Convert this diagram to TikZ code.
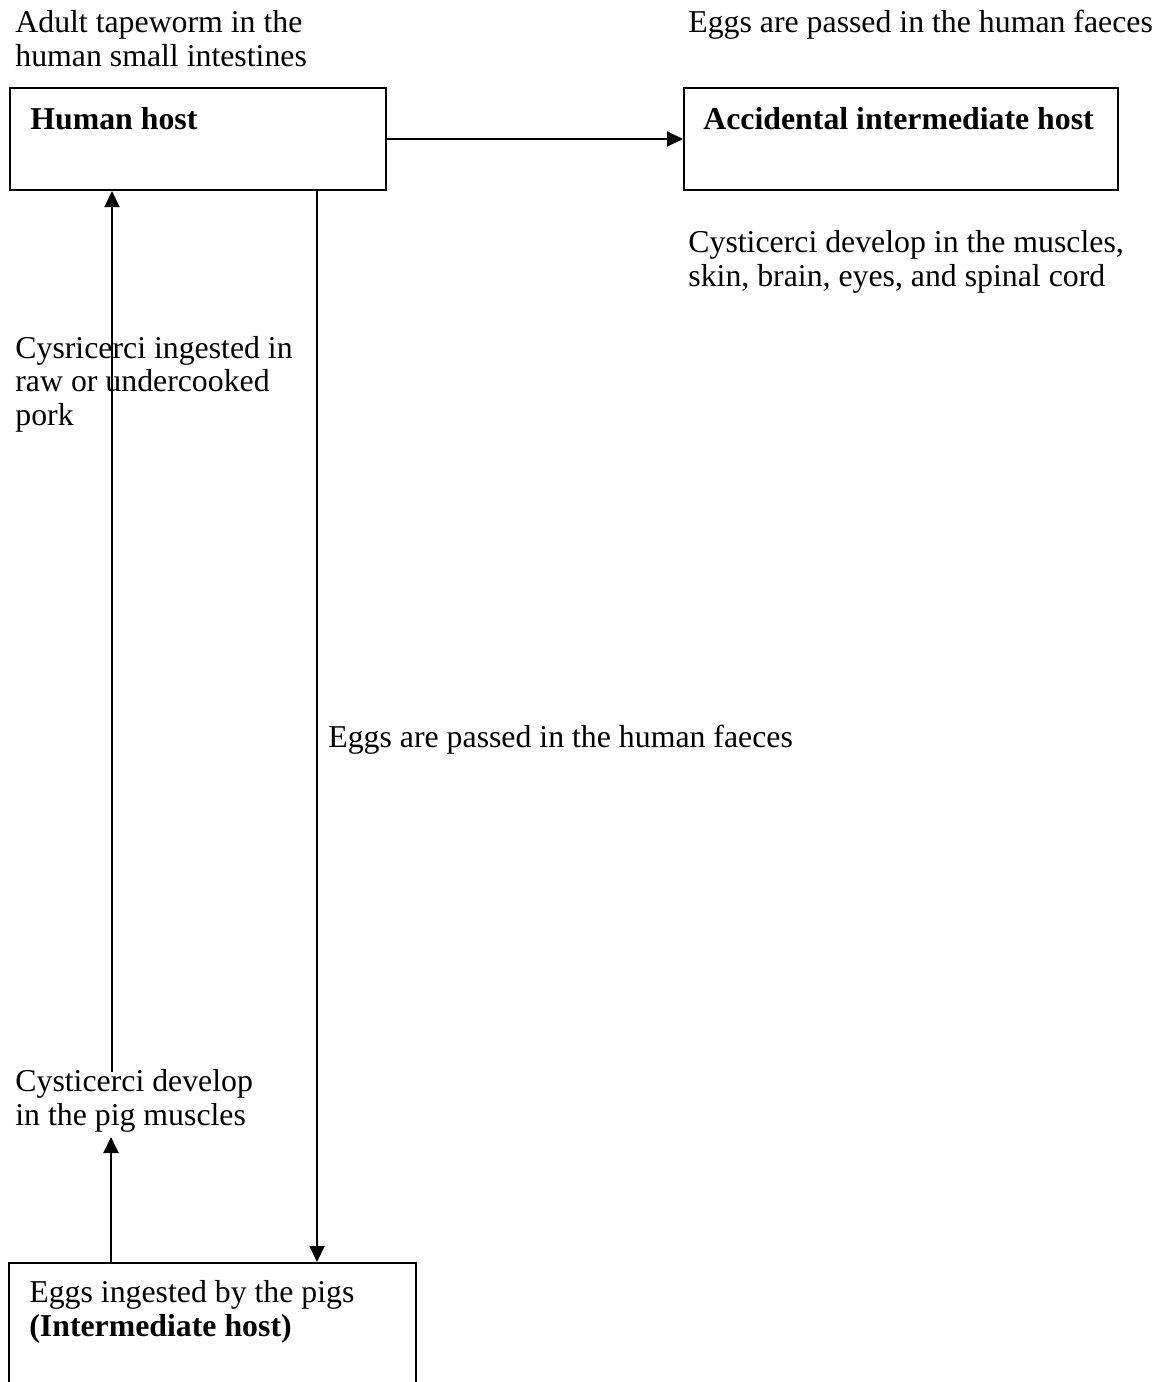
\documentclass[tikz,border=0pt]{standalone}
\usepackage{fontspec}
\setmainfont{Liberation Serif}
\usetikzlibrary{arrows.meta}
\begin{document}
\begin{tikzpicture}[x=0.5pt,y=-0.5pt,
 box/.style={draw, line width=1pt, rectangle, inner sep=0pt, anchor=north west},
 txt/.style={inner sep=0pt, anchor=base west, align=left, font=\fontsize{15.9}{16.6}\selectfont},
 conn/.style={line width=1pt, -{Triangle[length=8pt,width=7.5pt]}}]
\useasboundingbox (0,0) rectangle (1165,1382);
\clip (0,0) rectangle (1165,1382);
% boxes
\node[box, minimum width=188.25pt, minimum height=51pt] (human) at (8.5,87) {};
\node[box, minimum width=217pt, minimum height=51pt] (acc) at (683,87) {};
\node[box, minimum width=203.5pt, minimum height=100pt] (pig) at (8,1262) {};
% box texts (anchor = baseline of last line)
\node[txt] (humant) at (30,129) {\bfseries Human host};
\node[txt] (acct) at (703,129) {\bfseries Accidental intermediate host};
\node[txt] (pigt) at (29,1336) {Eggs ingested by the pigs\\\bfseries (Intermediate host)};
% free labels
\node[txt] (adult) at (15,66) {Adult tapeworm in the\\human small intestines};
\node[txt] (eggs1) at (688,32) {Eggs are passed in the human faeces};
\node[txt] (cyst1) at (688,286) {Cysticerci develop in the muscles,\\skin, brain, eyes, and spinal cord};
\node[txt] (ingest) at (15,425) {Cysricerci ingested in\\raw or undercooked\\pork};
\node[txt] (eggs2) at (328,747) {Eggs are passed in the human faeces};
\node[txt] (cyst2) at (15,1125) {Cysticerci develop\\in the pig muscles};
% connector end points
\coordinate (upstart) at (112,1072);
\coordinate (uptip) at (111,1137);
% connectors
\draw[conn] (human.east) -- (acc.west);
\draw[conn] (upstart) -- (human.south -| upstart);
\draw[conn] (human.south -| 317,0) -- (pig.north -| 317,0);
\draw[conn] (pig.north -| uptip) -- (uptip);
\end{tikzpicture}
\end{document}
